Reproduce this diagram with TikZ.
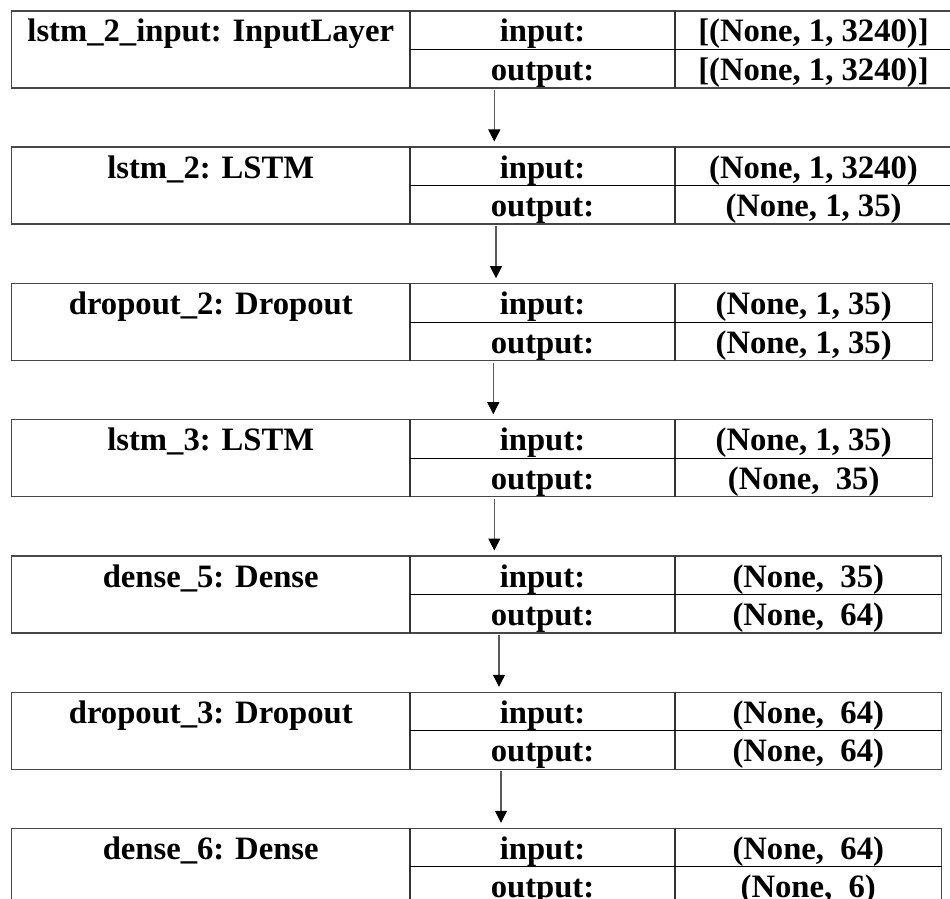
\documentclass[tikz,border=0pt]{standalone}
\usepackage{fontspec}
\setmainfont{Liberation Serif}
\usetikzlibrary{arrows.meta,calc}

% one Keras layer: #1 name, #2 top edge, #3 right edge, #4 title, #5 input shape, #6 output shape
\newcommand\kerasblock[6]{%
  \node[blk, anchor=north west, minimum width={(#3-11.5)*0.75pt}, minimum height={77*0.75pt}] (#1) at (11.5,#2) {};
  \draw[coldiv] (#1.north west) ++(398.5,0) -- ++(0,77);
  \draw[coldiv] (#1.north west) ++(663.5,0) -- ++(0,77);
  \draw[rowdiv] (#1.north west) ++(398.5,38.5) -- (#1.east |- {0,#2+38.5});
  \node[txt] (#1-title) at (210.75,#2+31) {#4};
  \node[txt] (#1-inlab) at (542.5,#2+31) {input:};
  \node[txt] (#1-outlab) at (542.5,#2+69.5) {output:};
  \node[txt] (#1-in) at ({(675+#3)/2},#2+31) {#5};
  \node[txt] (#1-out) at ({(675+#3)/2},#2+69.5) {#6};
}
% connector between two layers at a given x
\newcommand\kerasflow[3]{%
  \draw[flow] ($(#1.south west -| #3,0)+(0,2)$) -- ($(#2.north west -| #3,0)+(0,-5.5)$);
}

\begin{document}
\begin{tikzpicture}[x=0.75pt,y=-0.75pt,
  blk/.style={draw=black!72, line width=1pt, inner sep=0pt, outer sep=0pt},
  coldiv/.style={draw=black!80, line width=0.9pt},
  rowdiv/.style={draw=black, line width=0.8pt},
  txt/.style={anchor=base, inner sep=0pt, font=\fontsize{24.5}{29}\selectfont\bfseries},
  flow/.style={draw=black!65, line width=0.8pt, -{Triangle[width=9pt,length=9pt,fill=black,color=black]}}]
\useasboundingbox (0,0) rectangle (950,899);
\clip (0,0) rectangle (950,899);
\fill[white] (0,0) rectangle (950,899);

\kerasblock{b1}{11}{952}{lstm\_2\_input: InputLayer}{[(None, 1, 3240)]}{[(None, 1, 3240)]}
\kerasblock{b2}{147}{952}{lstm\_2: LSTM}{(None, 1, 3240)}{(None, 1, 35)}
\kerasblock{b3}{283.7}{932.3}{dropout\_2: Dropout}{(None, 1, 35)}{(None, 1, 35)}
\kerasblock{b4}{419.7}{932.3}{lstm\_3: LSTM}{(None, 1, 35)}{(None,\ \ 35)}
\kerasblock{b5}{556}{941.5}{dense\_5: Dense}{(None,\ \ 35)}{(None,\ \ 64)}
\kerasblock{b6}{692.3}{941.5}{dropout\_3: Dropout}{(None,\ \ 64)}{(None,\ \ 64)}
\kerasblock{b7}{828.3}{941.5}{dense\_6: Dense}{(None,\ \ 64)}{(None,\ \ 6)}

\kerasflow{b1}{b2}{494.3}
\kerasflow{b2}{b3}{496}
\kerasflow{b3}{b4}{493.3}
\kerasflow{b4}{b5}{494.3}
\kerasflow{b5}{b6}{499}
\kerasflow{b6}{b7}{501}
\end{tikzpicture}
\end{document}
